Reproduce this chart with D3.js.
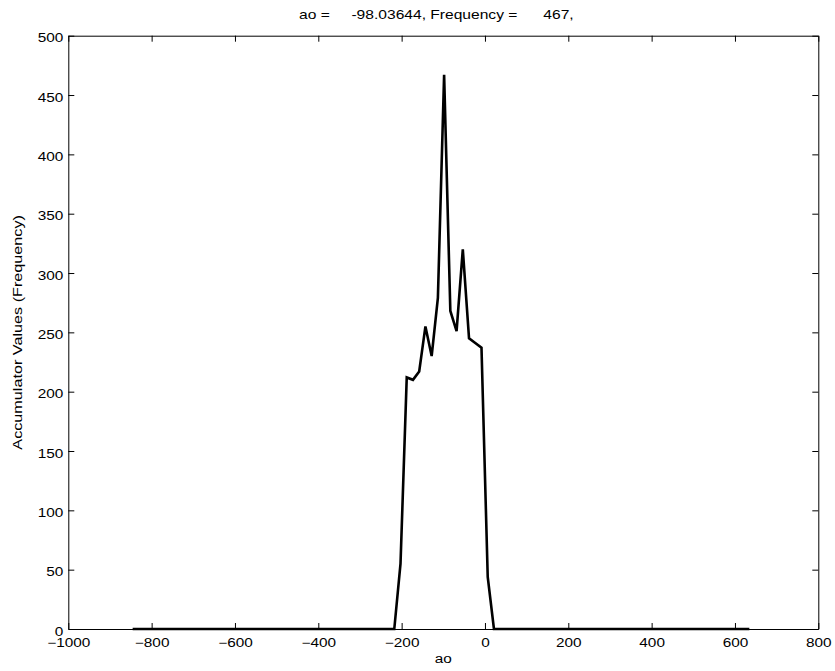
<!DOCTYPE html>
<html>
<head>
<meta charset="utf-8">
<script src="https://cdn.jsdelivr.net/npm/d3@7"></script>
<style>
  html, body { margin: 0; padding: 0; background: #fff; }
  svg { display: block; }
  text { font-family: "Liberation Sans", Arial, sans-serif; fill: #000; }
</style>
</head>
<body>
<script>
// ---- data ----
const ao = [-845.54, -217.64, -202.69, -187.74, -172.79, -157.84, -142.89, -127.94, -112.99,
            -98.04, -83.09, -68.14, -53.19, -38.24, -23.29, -8.34, 6.61, 21.56, 634.51];
const frequency = [0, 0, 55, 212, 210, 217, 255, 230, 279,
                   467, 268, 251, 320, 245, 241, 237, 44, 0, 0];
const xTicks = [-1000, -800, -600, -400, -200, 0, 200, 400, 600, 800];
const yTicks = [0, 50, 100, 150, 200, 250, 300, 350, 400, 450, 500];
const titleText = "ao =     -98.03644, Frequency =      467,";
const xLabel = "ao";
const yLabel = "Accumulator Values (Frequency)";

// ---- layout ----
const W = 835, H = 671;
const margin = { left: 68.3, right: 16.7, top: 35.7, bottom: 42 };
const iw = W - margin.left - margin.right;
const ih = H - margin.top - margin.bottom;
const SX = 1.28; // horizontal stretch of the text glyphs
const FS = 12;

const svg = d3.select("body").append("svg").attr("width", W).attr("height", H);
const g = svg.append("g").attr("transform", `translate(${margin.left},${margin.top})`);

const x = d3.scaleLinear().domain([-1000, 800]).range([0, iw]);
const y = d3.scaleLinear().domain([0, 500]).range([ih, 0]);

// data line
const pts = ao.map((v, i) => [v, frequency[i]]);
g.append("path")
  .datum(pts)
  .attr("fill", "none")
  .attr("stroke", "#000")
  .attr("stroke-width", 2.6)
  .attr("stroke-linejoin", "miter")
  .attr("d", d3.line().x(d => x(d[0])).y(d => y(d[1])));

function styleAxis(sel) {
  sel.selectAll(".domain").attr("stroke", "#000").attr("stroke-width", 1);
  sel.selectAll(".tick line").attr("stroke", "#000").attr("stroke-width", 1);
  sel.selectAll("text").attr("font-size", FS).attr("font-family", "Liberation Sans, Arial, sans-serif");
}

// bottom axis
const gx = g.append("g").attr("transform", `translate(0,${ih})`)
  .call(d3.axisBottom(x).tickValues(xTicks).tickSizeInner(-6).tickSizeOuter(0).tickPadding(9).tickFormat(d3.format("d")));
styleAxis(gx);
gx.selectAll("text").attr("transform", `scale(${SX},1)`);

// top axis (ticks only)
const gxt = g.append("g")
  .call(d3.axisTop(x).tickValues(xTicks).tickSizeInner(-6).tickSizeOuter(0).tickFormat(""));
styleAxis(gxt);

// left axis
const gy = g.append("g")
  .call(d3.axisLeft(y).tickValues(yTicks).tickSizeInner(-6).tickSizeOuter(0).tickPadding(5).tickFormat(d3.format("d")));
styleAxis(gy);
gy.selectAll("text")
  .attr("x", -5 / SX)
  .attr("dy", "0.5em")
  .attr("transform", `scale(${SX},1)`);

// right axis (ticks only)
const gyr = g.append("g").attr("transform", `translate(${iw},0)`)
  .call(d3.axisRight(y).tickValues(yTicks).tickSizeInner(-6).tickSizeOuter(0).tickFormat(""));
styleAxis(gyr);

// title
svg.append("text")
  .attr("transform", `translate(299,19) scale(1.3,1)`)
  .attr("text-anchor", "start")
  .attr("font-size", FS)
  .style("white-space", "pre")
  .attr("xml:space", "preserve")
  .text(titleText);

// x label
svg.append("text")
  .attr("transform", `translate(${margin.left + iw / 2},663) scale(${SX},1)`)
  .attr("text-anchor", "middle")
  .attr("font-size", FS)
  .text(xLabel);

// y label
svg.append("text")
  .attr("transform", `translate(21.5,${margin.top + ih / 2}) rotate(-90) scale(1.35,1)`)
  .attr("text-anchor", "middle")
  .attr("font-size", FS)
  .text(yLabel);
</script>
</body>
</html>
